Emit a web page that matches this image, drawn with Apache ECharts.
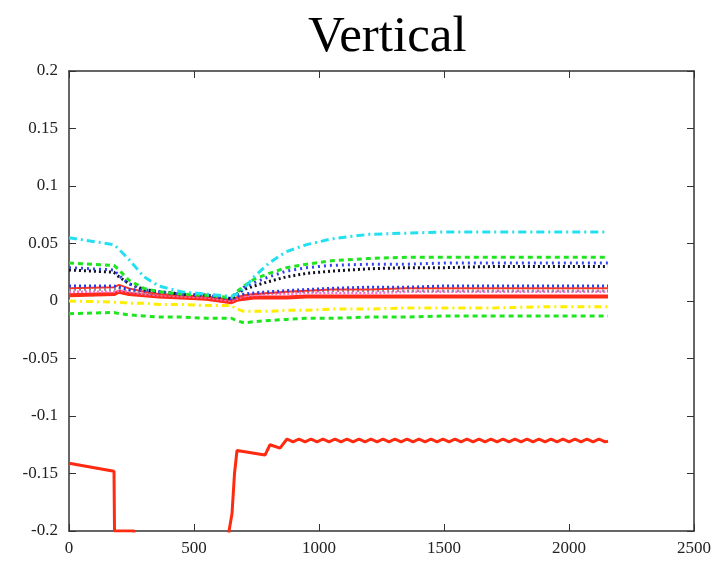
<!DOCTYPE html>
<html>
<head>
<meta charset="utf-8">
<script src="https://cdn.jsdelivr.net/npm/echarts@6/dist/echarts.min.js"></script>
<style>
  html, body { margin: 0; padding: 0; background: #fff; }
  #chart { width: 724px; height: 567px; }
</style>
</head>
<body>
<div id="chart"></div>
<script>
// shared x positions for the smooth runs
const xs = [0, 180, 200, 240, 300, 360, 450, 550, 650, 670, 700, 740, 800, 870, 950, 1050, 1200, 1350, 1500, 1700, 1900, 2156];

const cyanY = [0.055, 0.049, 0.045, 0.036, 0.021, 0.013, 0.008, 0.006, 0.004, 0.006, 0.011, 0.021, 0.033, 0.043, 0.049, 0.054, 0.058, 0.059, 0.060, 0.060, 0.060, 0.060];
const greenUpY = [0.033, 0.031, 0.027, 0.018, 0.011, 0.008, 0.006, 0.005, 0.003, 0.008, 0.013, 0.019, 0.024, 0.029, 0.032, 0.035, 0.037, 0.038, 0.038, 0.038, 0.038, 0.038];
const blackY = [0.027, 0.025, 0.021, 0.015, 0.010, 0.008, 0.006, 0.005, 0.002, 0.006, 0.010, 0.013, 0.017, 0.021, 0.024, 0.026, 0.028, 0.029, 0.029, 0.030, 0.030, 0.030];
const blueUpY = [0.029, 0.027, 0.022, 0.015, 0.010, 0.008, 0.006, 0.005, 0.002, 0.007, 0.012, 0.016, 0.021, 0.026, 0.029, 0.031, 0.032, 0.032, 0.033, 0.033, 0.033, 0.033];
const blueLowY = [0.013, 0.013, 0.012, 0.010, 0.009, 0.008, 0.006, 0.005, 0.002, 0.004, 0.006, 0.007, 0.008, 0.009, 0.010, 0.011, 0.012, 0.012, 0.013, 0.013, 0.013, 0.013];
const redThinY = [0.011, 0.012, 0.014, 0.011, 0.008, 0.006, 0.005, 0.004, 0.001, 0.003, 0.005, 0.006, 0.007, 0.008, 0.009, 0.010, 0.010, 0.011, 0.011, 0.011, 0.011, 0.011];
const grayY = [0.010, 0.010, 0.011, 0.009, 0.007, 0.006, 0.005, 0.004, 0.001, 0.003, 0.005, 0.006, 0.007, 0.008, 0.008, 0.009, 0.009, 0.009, 0.009, 0.009, 0.009, 0.009];
const magentaY = [0.008, 0.008, 0.009, 0.008, 0.006, 0.005, 0.004, 0.003, 0.000, 0.002, 0.004, 0.005, 0.006, 0.006, 0.007, 0.007, 0.007, 0.008, 0.008, 0.008, 0.008, 0.008];
const redThickY = [0.005, 0.006, 0.008, 0.006, 0.005, 0.004, 0.003, 0.002, -0.001, 0.001, 0.002, 0.003, 0.003, 0.003, 0.004, 0.004, 0.004, 0.004, 0.004, 0.004, 0.004, 0.004];
const yellowY = [0.000, -0.001, -0.001, -0.002, -0.002, -0.003, -0.003, -0.004, -0.004, -0.007, -0.009, -0.009, -0.009, -0.008, -0.008, -0.007, -0.007, -0.006, -0.006, -0.006, -0.005, -0.005];
const greenLowY = [-0.011, -0.010, -0.011, -0.012, -0.013, -0.014, -0.014, -0.015, -0.015, -0.017, -0.019, -0.018, -0.017, -0.016, -0.015, -0.015, -0.014, -0.014, -0.013, -0.013, -0.013, -0.013];

// the low red run (goes off the bottom between ~180 and ~640)
const redLowX = [0, 180, 182, 260, 262, 630, 640, 652, 662, 672, 784, 804, 844,
  872, 896, 920, 944, 968, 992, 1016, 1040, 1064, 1088, 1112, 1136, 1160, 1184, 1208, 1232,
  1256, 1280, 1304, 1328, 1352, 1376, 1400, 1424, 1448, 1472, 1496, 1520, 1544, 1568, 1592,
  1616, 1640, 1664, 1688, 1712, 1736, 1760, 1784, 1808, 1832, 1856, 1880, 1904, 1928, 1952,
  1976, 2000, 2024, 2048, 2072, 2096, 2120, 2144, 2156];
const redLowY = [-0.141, -0.148, -0.2, -0.2, -0.26, -0.26, -0.2, -0.185, -0.15, -0.13, -0.134, -0.125, -0.128,
  -0.120, -0.1225, -0.120, -0.1225, -0.120, -0.1225, -0.120, -0.1225, -0.120, -0.1225, -0.120, -0.1225, -0.120, -0.1225, -0.120, -0.1225,
  -0.120, -0.1225, -0.120, -0.1225, -0.120, -0.1225, -0.120, -0.1225, -0.120, -0.1225, -0.120, -0.1225, -0.120, -0.1225, -0.120,
  -0.1225, -0.120, -0.1225, -0.120, -0.1225, -0.120, -0.1225, -0.120, -0.1225, -0.120, -0.1225, -0.120, -0.1225, -0.120, -0.1225,
  -0.120, -0.1225, -0.120, -0.1225, -0.120, -0.1225, -0.120, -0.1225, -0.122];

const xTicks = [0, 500, 1000, 1500, 2000, 2500];
const yTicks = [-0.2, -0.15, -0.1, -0.05, 0, 0.05, 0.1, 0.15, 0.2];

function pairs(x, y) {
    let out = [];
    for (let i = 0; i < x.length; i++) {
        out.push([x[i], y[i]]);
    }
    return out;
}

function line(data, color, width, type) {
    return {
        type: 'line',
        data: data,
        showSymbol: false,
        symbol: 'none',
        clip: true,
        lineStyle: {
            color: color,
            width: width,
            type: type,
            cap: 'butt'
        }
    };
}

const serif = '"Liberation Serif", "DejaVu Serif", serif';
const frame = '#333';

let chart = echarts.init(document.getElementById('chart'));
let option = {
    animation: false,
    backgroundColor: '#fff',
    title: {
        text: 'Vertical',
        left: 303,
        top: 7,
        textStyle: {
            fontFamily: serif,
            fontWeight: 'normal',
            fontSize: 51,
            color: '#000'
        }
    },
    grid: {
        left: 69,
        right: 30,
        top: 71,
        bottom: 36,
        show: false
    },
    xAxis: [{
        type: 'value',
        min: 0,
        max: 2500,
        interval: 500,
        position: 'bottom',
        splitLine: { show: false },
        axisLine: { show: true, onZero: false, lineStyle: { color: frame, width: 1.5 } },
        axisTick: { show: true, inside: true, length: 7, lineStyle: { color: frame, width: 1 } },
        axisLabel: {
            margin: 9,
            fontFamily: serif,
            fontSize: 17,
            color: '#222',
            formatter: function (v) { return xTicks.indexOf(v) >= 0 ? String(v) : ''; }
        }
    }, {
        type: 'value',
        min: 0,
        max: 2500,
        interval: 500,
        position: 'top',
        splitLine: { show: false },
        axisLine: { show: true, onZero: false, lineStyle: { color: frame, width: 1.5 } },
        axisTick: { show: true, inside: true, length: 7, lineStyle: { color: frame, width: 1 } },
        axisLabel: { show: false }
    }],
    yAxis: [{
        type: 'value',
        min: -0.2,
        max: 0.2,
        interval: 0.05,
        position: 'left',
        splitLine: { show: false },
        axisLine: { show: true, onZero: false, lineStyle: { color: frame, width: 1.5 } },
        axisTick: { show: true, inside: true, length: 7, lineStyle: { color: frame, width: 1 } },
        axisLabel: {
            margin: 11,
            fontFamily: serif,
            fontSize: 17,
            color: '#222',
            formatter: function (v) {
                let r = Math.round(v * 100) / 100;
                return yTicks.indexOf(r) >= 0 ? String(r) : '';
            }
        }
    }, {
        type: 'value',
        min: -0.2,
        max: 0.2,
        interval: 0.05,
        position: 'right',
        splitLine: { show: false },
        axisLine: { show: true, onZero: false, lineStyle: { color: frame, width: 1.5 } },
        axisTick: { show: true, inside: true, length: 7, lineStyle: { color: frame, width: 1 } },
        axisLabel: { show: false }
    }],
    series: [
        line(pairs(xs, greenLowY), '#1ee61e', 3, [5, 4]),
        line(pairs(xs, yellowY), '#ffee00', 3, [7, 4, 2, 4]),
        line(pairs(xs, redThickY), '#ff2a1a', 4, 'solid'),
        line(pairs(xs, magentaY), '#ff6ad5', 2.5, [2, 2]),
        line(pairs(xs, grayY), '#8a8a9a', 2.5, [2, 3]),
        line(pairs(xs, redThinY), '#ff3322', 2, 'solid'),
        line(pairs(xs, blueLowY), '#2a3cf0', 3, [2, 3]),
        line(pairs(xs, blackY), '#111122', 3, [2, 3]),
        line(pairs(xs, blueUpY), '#3344ee', 3, [2, 4]),
        line(pairs(xs, greenUpY), '#1ee61e', 3, [5, 4]),
        line(pairs(xs, cyanY), '#22e0f2', 3, [8, 4, 2, 4]),
        line(pairs(redLowX, redLowY), '#ff2a10', 3, 'solid')
    ]
};
chart.setOption(option);
</script>
</body>
</html>
